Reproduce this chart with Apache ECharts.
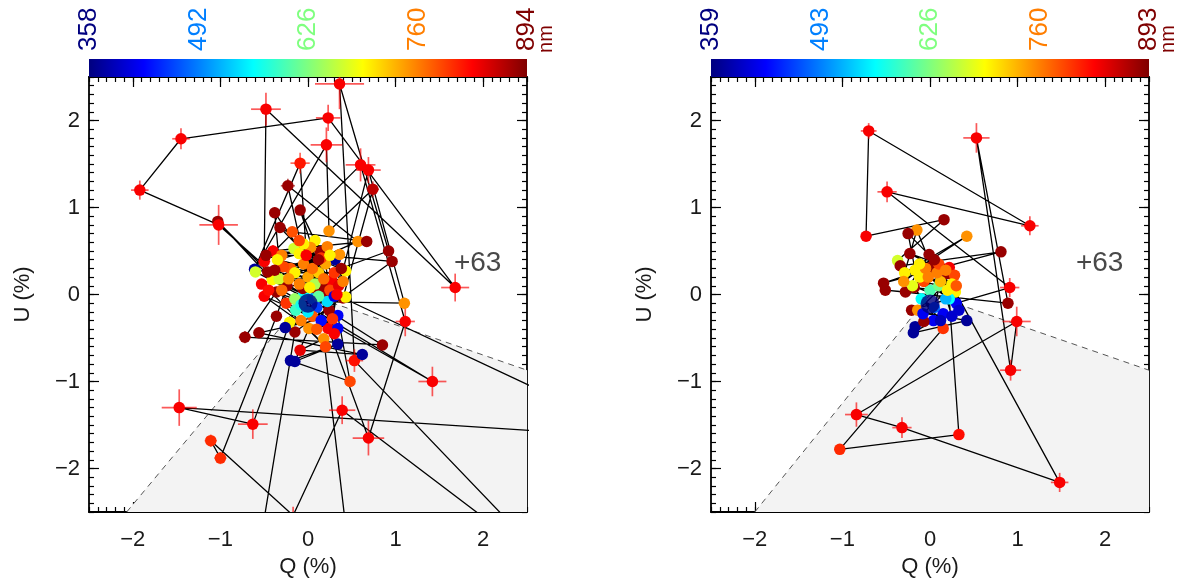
<!DOCTYPE html>
<html>
<head>
<meta charset="utf-8">
<script src="https://cdn.jsdelivr.net/npm/echarts@6.0.0/dist/echarts.min.js"></script>
<style>
html,body{margin:0;padding:0;background:#ffffff;}
#chart{width:1184px;height:587px;}
</style>
</head>
<body>
<div id="chart"></div>
<script>
// ------------------------- data -------------------------
const tickValues = [-2, -1, 0, 1, 2];
const axisRange = [-2.5, 2.5];
const leftCbTicks = [358, 492, 626, 760, 894];
const rightCbTicks = [359, 493, 626, 760, 893];
const colorbarUnit = 'nm';
const xTitle = 'Q (%)';
const yTitle = 'U (%)';
const annotationText = '+63';
const annotationQ = 1.66;
const annotationU = 0.36;

const leftQ = [-0.05,-0.41,-1.03,-0.46,0.85,-0.72,-0.36,0.92,0.36,0.53,
 2.33,2.25,0.39,-0.17,-1.11,-1.00,-0.36,-0.24,-1.02,-1.92,
 -1.45,0.23,1.68,-0.48,-0.50,0.60,1.11,0.69,0.23,0.69,
 1.10,-0.12,-0.63,-1.47,2.65,2.75,0.40,0.74,0.24,0.21,
 -0.61,-0.09,0.00,-0.23,0.57,-0.53,1.42,-0.30,-0.38,0.19,
 -0.09,0.14,-0.32,0.27,-0.18,0.67,-0.40,0.96,-0.15,-0.52,
 0.44,0.18,-0.09,0.62,-0.56,0.34,0.48,-0.20,0.34,-0.15,
 0.01,-0.50,0.34,-0.21,-0.26,0.24,-0.60,0.31,-0.33,0.43,
 -0.16,0.36,-0.10,0.08,-0.30,0.03,0.10,0.43,0.17,-0.06,
 0.05,0.10,-0.10,0.12,-0.20,0.20,0.25,-0.25,0.05,-0.05,
 0.15,0.30,-0.15,0.08,0.35,-0.14,0.22,0.30,-0.28,0.15,
 0.05,-0.35,0.22,-0.05,0.38,0.28,0.10,-0.08,0.20,-0.45,
 -0.15,0.02,0.18,-0.22,0.33,-0.38,0.12,-0.02,0.25,-0.48,
 0.40,-0.10,0.30,-0.08,0.12,0.00];
const leftU = [0.00,0.17,0.84,0.26,-0.58,-0.49,0.03,0.50,2.42,-0.76,
 -2.65,-2.75,-1.33,-2.54,-1.68,-1.88,-0.25,0.10,0.80,1.20,
 1.79,2.03,0.08,2.13,0.38,1.49,-0.31,-1.65,-0.39,1.43,
 -0.10,-0.08,-1.49,-1.30,-1.57,-1.15,-0.04,1.21,0.73,1.72,
 0.29,1.51,0.20,1.25,0.61,0.12,-1.00,0.05,0.94,0.10,
 0.97,0.49,0.77,0.16,0.72,0.61,0.50,0.38,-0.43,-2.70,
 -2.75,-0.51,-0.64,-0.69,-0.44,-0.24,-1.00,-0.76,-0.57,-0.77,
 -0.39,-0.02,-0.39,-0.32,-0.38,-0.18,0.26,0.40,0.18,0.27,
 0.53,0.46,0.47,0.62,0.45,0.54,0.01,-0.03,0.00,0.07,
 -0.05,-0.15,0.12,0.25,0.30,0.35,0.05,-0.10,-0.25,0.35,
 -0.30,0.25,0.25,0.12,0.10,-0.18,-0.08,-0.02,0.32,0.42,
 0.30,0.40,0.55,0.58,0.30,-0.28,-0.40,-0.30,-0.60,0.05,
 -0.05,0.08,0.18,0.18,0.00,0.28,0.40,0.45,0.45,0.45,
 0.15,0.62,-0.45,-0.12,-0.02,-0.20];
const leftWave = [560,695,880,880,880,880,880,880,830,820,
 830,830,830,830,805,805,880,880,830,830,
 830,830,830,830,830,830,830,830,830,830,
 750,600,830,830,830,830,880,860,750,830,
 372,815,740,880,750,830,830,770,880,880,
 880,880,880,830,785,880,830,880,880,830,
 830,750,840,372,880,420,790,372,372,372,
 750,830,420,700,372,880,670,372,670,700,
 670,750,700,700,760,750,880,700,880,880,
 520,460,760,720,780,740,790,800,780,760,
 430,800,700,650,840,590,540,410,790,800,
 770,700,760,700,880,800,780,760,790,820,
 640,700,770,750,830,880,880,830,700,880,
 760,790,830,570,610,550];
const leftErrQ = [0.03,0.03,0.05,0.04,0.06,0.07,0.04,0.05,0.28,0.10,
 0.10,0.10,0.15,0.10,0.07,0.07,0.04,0.03,0.22,0.10,
 0.10,0.14,0.16,0.17,0.07,0.17,0.11,0.18,0.03,0.14,
 0.06,0.03,0.17,0.20,0.10,0.10,0.04,0.07,0.04,0.18,
 0.04,0.11,0.03,0.08,0.04,0.05,0.16,0.03,0.06,0.03,
 0.05,0.04,0.05,0.03,0.04,0.05,0.07,0.05,0.04,0.10,
 0.10,0.04,0.06,0.06,0.06,0.03,0.05,0.06,0.04,0.06,
 0.03,0.05,0.03,0.03,0.03,0.03,0.04,0.04,0.03,0.03,
 0.03,0.03,0.03,0.03,0.03,0.03,0.03,0.03,0.03,0.03,
 0.03,0.03,0.03,0.03,0.03,0.03,0.03,0.03,0.03,0.03,
 0.03,0.03,0.03,0.03,0.03,0.03,0.03,0.03,0.03,0.03,
 0.03,0.03,0.03,0.03,0.03,0.03,0.03,0.03,0.03,0.03,
 0.03,0.03,0.03,0.03,0.03,0.03,0.03,0.03,0.03,0.03,
 0.03,0.03,0.03,0.03,0.03,0.03];
const leftErrU = [0.03,0.03,0.05,0.04,0.06,0.07,0.04,0.05,0.29,0.13,
 0.10,0.10,0.16,0.10,0.07,0.07,0.04,0.03,0.23,0.11,
 0.12,0.15,0.16,0.19,0.08,0.19,0.17,0.20,0.03,0.15,
 0.06,0.03,0.17,0.21,0.10,0.10,0.04,0.09,0.04,0.20,
 0.04,0.12,0.03,0.08,0.04,0.05,0.17,0.03,0.06,0.03,
 0.05,0.04,0.05,0.03,0.04,0.05,0.07,0.05,0.04,0.10,
 0.10,0.04,0.06,0.06,0.06,0.03,0.05,0.06,0.04,0.06,
 0.03,0.05,0.03,0.03,0.03,0.03,0.04,0.04,0.03,0.03,
 0.03,0.03,0.03,0.03,0.03,0.03,0.03,0.03,0.03,0.03,
 0.03,0.03,0.03,0.03,0.03,0.03,0.03,0.03,0.03,0.03,
 0.03,0.03,0.03,0.03,0.03,0.03,0.03,0.03,0.03,0.03,
 0.03,0.03,0.03,0.03,0.03,0.03,0.03,0.03,0.03,0.03,
 0.03,0.03,0.03,0.03,0.03,0.03,0.03,0.03,0.03,0.03,
 0.03,0.03,0.03,0.03,0.03,0.03];
const leftMean = [0.00, -0.10];
const leftWedgeQ = [-2.07, 0.00, 2.50, 2.50];
const leftWedgeU = [-2.50, 0.00, -0.87, -2.50];

const rightQ = [0.00,-0.37,0.16,-0.73,-0.70,1.14,-0.49,0.91,0.30,-0.34,
 0.81,-0.53,0.02,-0.15,-0.29,0.42,-0.17,-0.25,0.20,-0.23,
 0.22,-0.01,-0.28,-0.51,0.89,0.53,0.92,0.99,-0.84,-0.32,
 1.48,0.29,-0.18,0.15,-1.03,0.33,0.22,-0.21,0.42,-0.19,
 0.04,-0.17,0.15,-0.07,-0.14,0.28,-0.07,0.10,-0.10,0.05,
 0.12,-0.12,0.25,0.08,-0.05,0.18,-0.20,0.12,0.33,0.10,
 -0.02,0.20,-0.08,0.25,0.05,-0.30,0.30,0.18,-0.12];
const rightU = [0.05,0.39,0.86,0.67,1.88,0.79,1.18,0.08,-0.10,0.33,
 0.49,0.13,0.32,0.74,0.25,0.67,0.28,0.70,0.24,0.47,
 0.31,0.46,0.03,0.05,-0.10,1.80,-0.87,-0.31,-1.38,-1.53,
 -2.16,0.03,0.08,-0.39,-1.78,-1.61,-0.05,-0.18,-0.30,-0.44,
 -0.30,-0.37,-0.22,-0.31,-0.18,0.22,0.15,0.10,-0.05,-0.15,
 0.15,0.20,0.12,0.25,0.30,-0.05,0.10,-0.30,-0.18,0.35,
 0.20,0.05,-0.22,-0.25,0.40,0.15,0.10,0.28,0.35];
const rightWave = [600,670,880,830,830,830,830,830,420,880,
 880,880,880,750,700,750,700,880,880,880,
 830,880,880,880,880,830,830,830,830,830,
 830,700,880,800,805,820,560,880,372,372,
 420,372,420,880,750,790,790,620,560,480,
 730,700,700,760,760,520,680,390,400,790,
 760,700,420,400,880,750,780,760,700];
const rightErrQ = [0.03,0.03,0.04,0.05,0.09,0.10,0.11,0.11,0.03,0.03,
 0.05,0.04,0.03,0.03,0.03,0.03,0.03,0.03,0.03,0.03,
 0.05,0.03,0.03,0.04,0.05,0.15,0.12,0.16,0.13,0.11,
 0.10,0.03,0.03,0.04,0.05,0.05,0.03,0.03,0.03,0.03,
 0.03,0.03,0.03,0.03,0.03,0.03,0.03,0.03,0.03,0.03,
 0.03,0.03,0.03,0.03,0.03,0.03,0.03,0.03,0.03,0.03,
 0.03,0.03,0.03,0.03,0.03,0.03,0.03,0.03,0.03];
const rightErrU = [0.03,0.03,0.04,0.05,0.09,0.11,0.12,0.11,0.03,0.03,
 0.05,0.04,0.03,0.03,0.03,0.03,0.03,0.03,0.03,0.03,
 0.05,0.03,0.03,0.04,0.05,0.17,0.12,0.17,0.14,0.12,
 0.11,0.03,0.03,0.04,0.05,0.05,0.03,0.03,0.03,0.03,
 0.03,0.03,0.03,0.03,0.03,0.03,0.03,0.03,0.03,0.03,
 0.03,0.03,0.03,0.03,0.03,0.03,0.03,0.03,0.03,0.03,
 0.03,0.03,0.03,0.03,0.03,0.03,0.03,0.03,0.03];
const rightMean = [0.00, -0.11];
const rightWedgeQ = [-2.00, 0.00, 2.50, 2.50];
const rightWedgeU = [-2.50, 0.00, -0.87, -2.50];

// ------------------------- styling -------------------------
const FONT = "'Liberation Sans', Arial, sans-serif";
const TXT = '#1a1a1a';
const jetStops = ['#00007f','#0000ff','#007fff','#00ffff','#7fff7f','#ffff00','#ff7f00','#ff0000','#7f0000'];

function hexToRgb(h){ return [parseInt(h.slice(1,3),16), parseInt(h.slice(3,5),16), parseInt(h.slice(5,7),16)]; }
function jetColor(t){
  t = Math.max(0, Math.min(1, t));
  const n = jetStops.length - 1;
  const f = t * n;
  const i = Math.min(Math.floor(f), n - 1);
  const w = f - i;
  const a = hexToRgb(jetStops[i]), b = hexToRgb(jetStops[i + 1]);
  const c = a.map((v, k) => Math.round(v + (b[k] - v) * w));
  return 'rgb(' + c.join(',') + ')';
}
function fmtTick(v){ v = Number(v); return v < 0 ? '\u2212' + Math.abs(v) : String(v); }

const plotGrids = [
  {left: 89, top: 77, width: 438, height: 435},
  {left: 711, top: 77, width: 438, height: 435}
];
const cbGrids = [
  {left: 89, top: 59, width: 438, height: 18},
  {left: 711, top: 59, width: 438, height: 18}
];

function minorAxis(gi, pos){
  return {type:'value', gridIndex:gi, position:pos, min:axisRange[0], max:axisRange[1], interval:0.1,
    axisLine:{show:true, onZero:false, lineStyle:{color:'#000', width:1.8}},
    axisTick:{show:true, inside:true, length:5, lineStyle:{color:'#000', width:1.2}},
    axisLabel:{show:false}, splitLine:{show:false}};
}
function majorAxis(gi, pos, showLabels, name, nameGap){
  const a = {type:'value', gridIndex:gi, position:pos, min:axisRange[0], max:axisRange[1],
    axisLine:{show:false, onZero:false},
    axisTick:{show:true, inside:true, length:10, customValues:tickValues, lineStyle:{color:'#000', width:1.2}},
    axisLabel:{show:showLabels, customValues:tickValues, formatter:fmtTick, fontSize:22, fontFamily:FONT, color:TXT,
      margin:(pos === 'left' ? 9 : 17)},
    splitLine:{show:false}};
  if (name) {
    a.name = name; a.nameLocation = 'middle'; a.nameGap = nameGap;
    a.nameTextStyle = {fontSize:22, fontFamily:FONT, color:TXT};
  }
  return a;
}
function cbXAxis(gi, ticks){
  const lo = ticks[0], hi = ticks[ticks.length - 1];
  return {type:'value', gridIndex:gi, position:'top', min:lo, max:hi,
    axisLine:{show:false}, axisTick:{show:false}, splitLine:{show:false},
    axisLabel:{show:true, customValues:ticks, rotate:90, margin:8, fontSize:26, fontFamily:FONT,
      formatter:(v) => String(Math.round(Number(v))),
      color:(v) => jetColor((Number(v) - lo) / (hi - lo))}};
}

const xAxes = [], yAxes = [];
for (let p = 0; p < 2; p++) {
  xAxes.push(minorAxis(p, 'bottom'), minorAxis(p, 'top'), majorAxis(p, 'bottom', true, xTitle, 42), majorAxis(p, 'top', false));
  yAxes.push(minorAxis(p, 'left'), minorAxis(p, 'right'), majorAxis(p, 'left', true, yTitle, 55), majorAxis(p, 'right', false));
}
xAxes.push(cbXAxis(2, leftCbTicks), cbXAxis(3, rightCbTicks));
yAxes.push({type:'value', gridIndex:2, min:0, max:1, show:false}, {type:'value', gridIndex:3, min:0, max:1, show:false});

function panelSeries(p, Q, U, W, EQ, EU, mean, wedgeQ, wedgeU){
  const xi = 2 + 4 * p, yi = 2 + 4 * p;
  const pts = Q.map((q, i) => [q, U[i], W[i], EQ[i], EU[i]]);
  return [
    {type:'custom', xAxisIndex:xi, yAxisIndex:yi, z:1, silent:true, clip:true, animation:false,
      data:[[wedgeQ[0], wedgeU[0]]],
      renderItem:(params, api) => {
        const poly = wedgeQ.map((q, i) => api.coord([q, wedgeU[i]]));
        return {type:'group', children:[
          {type:'polygon', shape:{points:poly}, style:{fill:'#f3f3f3'}},
          {type:'polyline', shape:{points:poly.slice(0, 3)}, style:{stroke:'#555', lineWidth:1, lineDash:[6,5], fill:null}}
        ]};
      }},
    {type:'line', xAxisIndex:xi, yAxisIndex:yi, z:2, data:pts.map(d => [d[0], d[1]]), symbol:'none',
      lineStyle:{color:'#000', width:1.3}, clip:true, animation:false, silent:true},
    {type:'custom', xAxisIndex:xi, yAxisIndex:yi, z:3, clip:true, animation:false, silent:true,
      data:pts, encode:{x:0, y:1},
      renderItem:(params, api) => {
        const q = api.value(0), u = api.value(1), eq = api.value(3), eu = api.value(4);
        const col = api.visual('color');
        const a = api.coord([q - eq, u]), b = api.coord([q + eq, u]);
        const c = api.coord([q, u - eu]), d = api.coord([q, u + eu]);
        return {type:'group', children:[
          {type:'line', shape:{x1:a[0], y1:a[1], x2:b[0], y2:b[1]}, style:{stroke:col, lineWidth:1.7, opacity:0.65}},
          {type:'line', shape:{x1:c[0], y1:c[1], x2:d[0], y2:d[1]}, style:{stroke:col, lineWidth:1.7, opacity:0.65}}
        ]};
      }},
    {type:'scatter', xAxisIndex:xi, yAxisIndex:yi, z:4, data:pts, encode:{x:0, y:1}, symbolSize:11.5,
      itemStyle:{opacity:1}, animation:false, silent:true},
    {type:'scatter', xAxisIndex:xi, yAxisIndex:yi, z:5, data:[mean], symbolSize:19,
      itemStyle:{color:'#00007f'}, animation:false, silent:true},
    {type:'scatter', xAxisIndex:xi, yAxisIndex:yi, z:6, data:[[annotationQ, annotationU]], symbolSize:1,
      itemStyle:{color:'rgba(0,0,0,0)'}, animation:false, silent:true,
      label:{show:true, position:'right', distance:0, formatter:annotationText, fontSize:28, fontFamily:FONT, color:TXT}}
  ];
}

function colorbarSeries(k, ticks){
  return {type:'custom', xAxisIndex:8 + k, yAxisIndex:8 + k, silent:true, animation:false,
    data:[[ticks[0], ticks[ticks.length - 1]]], encode:{x:[0, 1]},
    renderItem:(params, api) => {
      const p0 = api.coord([api.value(0), 0]);
      const p1 = api.coord([api.value(1), 1]);
      return {type:'rect', shape:{x:p0[0], y:p1[1], width:p1[0] - p0[0], height:p0[1] - p1[1]},
        style:{fill:new echarts.graphic.LinearGradient(0, 0, 1, 0,
          jetStops.map((c, i) => ({offset:i / (jetStops.length - 1), color:c})))}};
    }};
}

const series = [].concat(
  panelSeries(0, leftQ, leftU, leftWave, leftErrQ, leftErrU, leftMean, leftWedgeQ, leftWedgeU),
  panelSeries(1, rightQ, rightU, rightWave, rightErrQ, rightErrU, rightMean, rightWedgeQ, rightWedgeU),
  [colorbarSeries(0, leftCbTicks), colorbarSeries(1, rightCbTicks)]
);

const option = {
  backgroundColor:'#ffffff',
  animation:false,
  grid:[...plotGrids, ...cbGrids],
  xAxis:xAxes,
  yAxis:yAxes,
  visualMap:[
    {type:'continuous', show:false, min:leftCbTicks[0], max:leftCbTicks[4], dimension:2, seriesIndex:[2, 3], inRange:{color:jetStops}},
    {type:'continuous', show:false, min:rightCbTicks[0], max:rightCbTicks[4], dimension:2, seriesIndex:[8, 9], inRange:{color:jetStops}}
  ],
  graphic:[
    {type:'text', x:546, y:39, rotation:Math.PI / 2, style:{text:colorbarUnit, fill:'#7f0000', fontSize:20, fontFamily:FONT, align:'center', verticalAlign:'middle'}},
    {type:'text', x:1168, y:39, rotation:Math.PI / 2, style:{text:colorbarUnit, fill:'#7f0000', fontSize:20, fontFamily:FONT, align:'center', verticalAlign:'middle'}}
  ],
  series:series
};

const chart = echarts.init(document.getElementById('chart'), null, {renderer:'canvas'});
chart.setOption(option);
</script>
</body>
</html>
